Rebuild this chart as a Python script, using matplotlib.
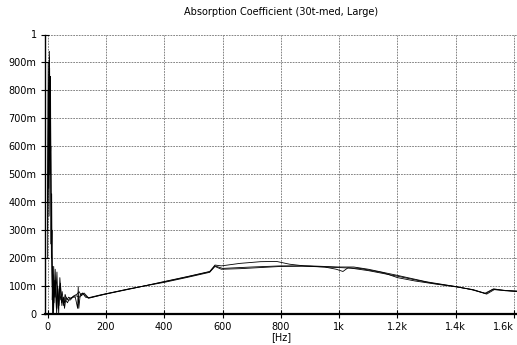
"""
Absorption coefficient (30t-med, Large) - three measured curves vs frequency.
"""

import matplotlib
matplotlib.use("Agg")
import matplotlib.pyplot as plt
from matplotlib.ticker import FixedLocator, FixedFormatter

title = "Absorption Coefficient (30t-med, Large)"
x_label = "[Hz]"

x_ticks = [0, 200, 400, 600, 800, 1000, 1200, 1400, 1600]
x_tick_labels = ["0", "200", "400", "600", "800", "1k", "1.2k", "1.4k", "1.6k"]
y_ticks = [0, 0.1, 0.2, 0.3, 0.4, 0.5, 0.6, 0.7, 0.8, 0.9, 1.0]
y_tick_labels = ["0", "100m", "200m", "300m", "400m", "500m",
                 "600m", "700m", "800m", "900m", "1"]

# curve A - upper hump around 750-800 Hz
freq_a = [0, 2, 4, 6, 8, 10, 12, 14, 16, 18, 20, 24, 28, 32, 36, 40, 45,
          50, 55, 60, 66, 72, 80, 90, 100, 108, 116, 125, 140, 180, 250,
          320, 400, 480, 556, 574, 596, 660, 730, 785, 830, 880, 950, 1000,
          1040, 1100, 1150, 1200, 1260, 1320, 1400, 1450, 1504, 1527, 1560,
          1610]
alpha_a = [0.30, 0.90, 0.50, 0.94, 0.60, 0.85, 0.25, 0.43, 0.05, 0.17,
           0.00, 0.12, 0.06, 0.15, 0.02, 0.10, 0.05, 0.08, 0.03, 0.07,
           0.05, 0.06, 0.055, 0.065, 0.07, 0.08, 0.065, 0.075, 0.058,
           0.068, 0.083, 0.098, 0.115, 0.133, 0.151, 0.175, 0.172, 0.181,
           0.187, 0.188, 0.178, 0.172, 0.168, 0.166, 0.164, 0.155, 0.145,
           0.135, 0.122, 0.110, 0.098, 0.088, 0.073, 0.088, 0.085, 0.081]

# curve B - lower branch with a wiggle near 1 kHz
freq_b = [0, 3, 5, 7, 9, 11, 13, 15, 17, 19, 22, 26, 30, 34, 38, 42, 48,
          54, 58, 62, 68, 75, 85, 95, 103, 105, 107, 112, 120, 140, 200,
          280, 400, 480, 556, 574, 596, 660, 730, 800, 876, 950, 990, 1013,
          1030, 1070, 1150, 1200, 1260, 1330, 1400, 1460, 1500, 1530, 1570,
          1610]
alpha_b = [0.40, 0.70, 0.35, 0.88, 0.55, 0.60, 0.20, 0.30, 0.00, 0.14,
           0.04, 0.16, 0.02, 0.10, 0.00, 0.13, 0.04, 0.06, 0.02, 0.05,
           0.04, 0.055, 0.06, 0.06, 0.02, 0.098, 0.02, 0.07, 0.074,
           0.056, 0.072, 0.09, 0.113, 0.131, 0.149, 0.170, 0.160, 0.162,
           0.166, 0.170, 0.171, 0.168, 0.160, 0.152, 0.165, 0.163, 0.148,
           0.130, 0.118, 0.107, 0.097, 0.087, 0.074, 0.090, 0.083, 0.080]

# curve C - middle branch
freq_c = [0, 2, 4, 6, 8, 10, 12, 14, 16, 19, 21, 23, 27, 31, 35, 39, 44,
          49, 53, 58, 63, 70, 78, 88, 98, 110, 120, 130, 145, 200, 300,
          400, 480, 556, 574, 600, 700, 800, 900, 1000, 1050, 1100, 1200,
          1300, 1400, 1460, 1506, 1532, 1570, 1610]
alpha_c = [0.20, 0.80, 0.45, 0.92, 0.50, 0.75, 0.30, 0.20, 0.10, 0.05,
           0.17, 0.06, 0.12, 0.00, 0.09, 0.03, 0.11, 0.03, 0.06, 0.04,
           0.06, 0.05, 0.05, 0.062, 0.065, 0.06, 0.075, 0.06, 0.058,
           0.071, 0.093, 0.116, 0.134, 0.152, 0.172, 0.163, 0.168, 0.172,
           0.172, 0.168, 0.168, 0.160, 0.138, 0.115, 0.098, 0.086, 0.071,
           0.087, 0.084, 0.082]

fig = plt.figure(figsize=(5.17, 3.45), dpi=100)
ax = fig.add_axes([0.087, 0.09, 0.913, 0.81])

for f, a in [(freq_a, alpha_a), (freq_b, alpha_b), (freq_c, alpha_c)]:
    ax.plot(f, a, color="black", lw=0.6)

ax.set_xlim(-9, 1610)
ax.set_ylim(0, 1.0)

ax.xaxis.set_major_locator(FixedLocator(x_ticks))
ax.xaxis.set_major_formatter(FixedFormatter(x_tick_labels))
ax.yaxis.set_major_locator(FixedLocator(y_ticks))
ax.yaxis.set_major_formatter(FixedFormatter(y_tick_labels))

ax.grid(True, color="#555555", ls=(0, (2.5, 1.5)), lw=0.5)
ax.tick_params(axis="both", direction="inout", length=6, width=0.8,
               labelsize=7, pad=3)
for s in ("top", "right"):
    ax.spines[s].set_visible(False)
ax.spines["left"].set_linewidth(1.0)
ax.spines["bottom"].set_linewidth(1.6)

# last tick label sits against the right edge, like the original
ax.get_xticklabels()[-1].set_horizontalalignment("right")
ax.get_xticklabels()[-1].set_x(0)

ax.set_xlabel(x_label, fontsize=7, labelpad=0)
ax.set_title(title, fontsize=7, pad=14)

fig.savefig("out.png", dpi=100)
